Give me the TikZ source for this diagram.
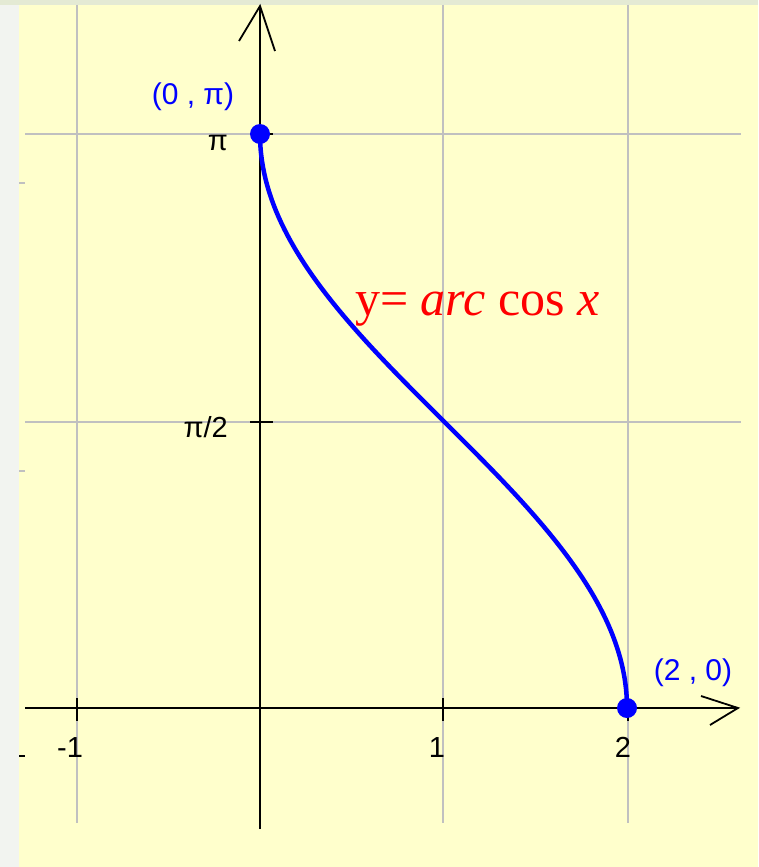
\documentclass[tikz,border=0pt]{standalone}
\usepackage{fontspec}
\setmainfont{Liberation Serif}
\newfontfamily\axfont{Liberation Sans}
\definecolor{panelyellow}{RGB}{255,255,204}
\definecolor{outerleft}{RGB}{242,244,240}
\definecolor{outertop}{RGB}{228,234,212}
\definecolor{gridgray}{RGB}{192,192,192}
\begin{document}
\begin{tikzpicture}[x=1pt,y=-1pt,
  gridline/.style={draw=gridgray, line width=2.6pt},
  axisline/.style={draw=black, line width=2.8pt},
  arrowarm/.style={draw=black, line width=1.8pt},
  tickline/.style={draw=black, line width=2.8pt},
  curveline/.style={draw=blue, line width=4.5pt},
  dotnode/.style={circle, fill=blue, inner sep=0pt, minimum size=20pt},
  ticklabel/.style={font=\axfont\fontsize{29}{29}\selectfont, text=black, inner sep=0pt},
  ptlabel/.style={font=\axfont\fontsize{30}{30}\selectfont, text=blue, inner sep=0pt},
  marginmark/.style={line width=2.6pt}
]
\useasboundingbox (0,0) rectangle (758,867);
% backgrounds
\fill[outerleft] (0,0) rectangle (758,867);
\fill[outertop] (0,0) rectangle (758,5);
\fill[panelyellow] (19,5) rectangle (758,867);
% small marks on the left margin
\draw[marginmark, gridgray] (19,183) -- (25,183);
\draw[marginmark, gridgray] (19,471) -- (25,471);
\draw[marginmark, black] (19,756) -- (25,756);
% grid
\foreach \gx in {77,443,628} {\draw[gridline] (\gx,5) -- (\gx,823);}
\foreach \gy in {134,422} {\draw[gridline] (25,\gy) -- (741,\gy);}
% axes
\coordinate (xs) at (25,708);
\coordinate (xe) at (738,708);
\coordinate (ys) at (260,829);
\coordinate (ye) at (260,6);
\draw[axisline] (xs) -- (xe);
\draw[axisline] (ys) -- (ye);
\coordinate (xa1) at (701,696);
\coordinate (xa2) at (710,725);
\draw[arrowarm] (xa1) -- (xe) -- (xa2);
\coordinate (ya1) at (239,41);
\coordinate (ya2) at (275,51);
\draw[arrowarm] (ya1) -- (ye) -- (ya2);
% ticks
\foreach \tx in {77,443,628} {\draw[tickline] (\tx,698) -- (\tx,721);}
\foreach \ty in {134,422} {\draw[tickline] (250,\ty) -- (273,\ty);}
% tick labels
\node[ticklabel, anchor=base east] (lpi) at (228,150) {π};
\node[ticklabel, anchor=base east] (lpi2) at (228,437) {π/2};
\node[ticklabel, anchor=base] (lm1) at (70,757) {-1};
\node[ticklabel, anchor=base] (l1) at (437,757) {1};
\node[ticklabel, anchor=base] (l2) at (623,757) {2};
% curve
\draw[curveline] plot[domain=0:180, samples=181] ({443.5+183.5*cos(\x)}, {708-3.18889*\x});
% points
\node[dotnode] (p0) at (260,134) {};
\node[dotnode] (p2) at (627,708) {};
\node[ptlabel, anchor=base] (lp0) at (193,104) {(0 , π)};
\node[ptlabel, anchor=base] (lp2) at (693,680) {(2 , 0)};
% function label
\node[inner sep=0pt, anchor=base west, text=red, font=\fontsize{50}{50}\selectfont] (flab) at (355,315) {y= \textit{arc} cos \textit{x}};
\end{tikzpicture}
\end{document}
